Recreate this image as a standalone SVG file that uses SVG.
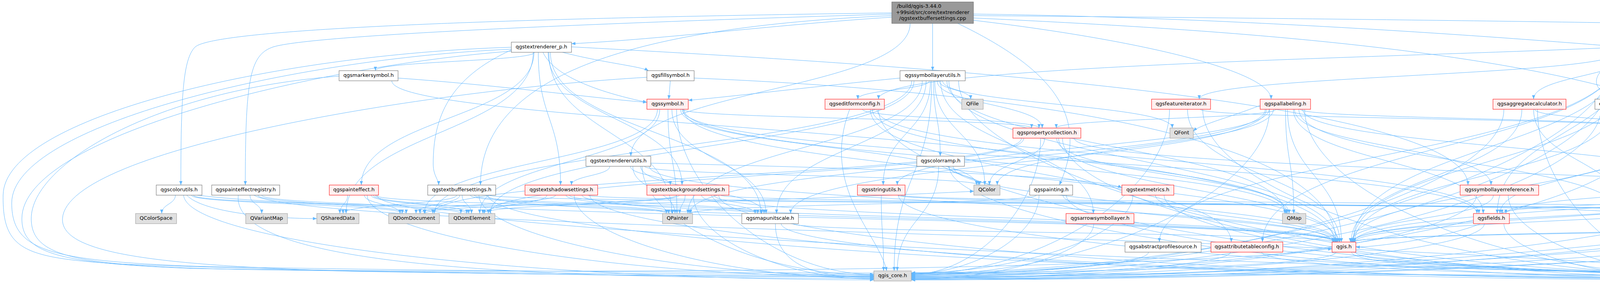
<svg xmlns="http://www.w3.org/2000/svg" width="6426" height="725" viewBox="0 0 6426 725">
<style>
.e path{fill:none;stroke:#63b8ff;stroke-width:1;marker-end:url(#a)}
.w rect{fill:#ffffff;stroke:#666666;stroke-width:1}
.g rect{fill:#e0e0e0;stroke:#999999;stroke-width:1}
.r rect{fill:#fff0f0;stroke:#ff0000;stroke-width:1}
.rt rect{fill:#999999;stroke:#666666;stroke-width:1}
text{font-family:"DejaVu Sans","Liberation Sans",sans-serif;font-size:13px;fill:#000000;text-anchor:middle}
</style>
<defs>
<marker id="a" viewBox="0 0 10 8" refX="10" refY="4" markerWidth="10" markerHeight="8" markerUnits="userSpaceOnUse" orient="auto"><path d="M0,0L10,4L0,8z" fill="#63b8ff"/></marker>
</defs>
<rect x="0" y="0" width="6426" height="725" fill="#ffffff"/>
<g id="edges" class="e">
<path d="M2283,33 C1400,45 560,70 500,120 C468,150 463,250 463,474"/>
<path d="M2283,36 C1500,60 800,90 700,120 C640,140 628,200 628,474"/>
<path d="M2283,40 C1600,70 1230,200 1230,474"/>
<path d="M2283,44 C2000,62 1700,100 1463,112"/>
<path d="M2330,60 C2330,230 1615,230 1615,400"/>
<path d="M2387.5,60 L2387.5,181"/>
<path d="M2452,60 C2700,180 2790,300 2712,474"/>
<path d="M2492,52 C2900,100 3254,180 3254,254"/>
<path d="M2492,36 C3200,45 3900,100 4125,118"/>
<path d="M2492,46 C3200,80 4589,150 4589,547"/>
<path d="M2492,40 C3500,48 5500,70 5790,110 C5880,140 5905,250 5905,400"/>
<path d="M1368,134 C1368,157 961,157 961,181"/>
<path d="M1367,134 C1367,304 925,304 925,474"/>
<path d="M1365,134 C1365,340 886,340 886,547"/>
<path d="M1309,128 C1150,200 1109,300 1109,420 C1109,450 1123,460 1123,474"/>
<path d="M1378,134 C1378,304 1435,304 1435,474"/>
<path d="M1440,134 C1540,160 1640,170 1660,181"/>
<path d="M1390,134 C1420,200 1550,240 1656,262"/>
<path d="M1403,134 C1403,304 1746,304 1746,474"/>
<path d="M1405,134 C1405,340 1720,340 1720,547"/>
<path d="M1409,134 C1409,340 1948,340 1948,547"/>
<path d="M1463,120 C2000,150 3758,236 3758,474"/>
<path d="M1309,121 C700,140 10,300 8,500 C6,640 60,660 300,676 C900,700 1800,709 2237,709"/>
<path d="M1309,126 C750,150 30,320 30,520 C30,640 120,668 500,682 C1500,705 3500,700 4375,707"/>
<path d="M1309,131 C800,170 56,350 56,560 C56,650 150,675 500,688 C1500,705 3000,690 3410,637"/>
<path d="M4125,122 C3500,150 2249,170 2249,254"/>
<path d="M4140,134 C4140,416 3236,699 2333,699"/>
<path d="M4143,134 C4143,194 3070,194 3070,254"/>
<path d="M4150,134 C4150,377 3232,377 3232,620"/>
<path d="M4160,134 C4160,377 3464,377 3464,620"/>
<path d="M4175,134 C4175,340 3833,340 3833,547"/>
<path d="M4179,134 C4179,194 3926,194 3926,254"/>
<path d="M4165,134 C4060,190 4070,230 4140,254"/>
<path d="M4200,134 C4330,300 4320,450 4190,547"/>
<path d="M4190,134 L4190,181"/>
<path d="M4225,134 C4310,200 4300,280 4267,328"/>
<path d="M4230,134 C4420,200 4425,300 4425,474"/>
<path d="M4235,134 C4470,300 4409,500 4409,694"/>
<path d="M4255,125 C4450,150 4550,170 4629,190"/>
<path d="M4213,134 C4213,236 4736,236 4736,474"/>
<path d="M4255,128 C4700,160 5011,220 5011,328"/>
<path d="M4255,130 C4700,180 5200,300 5100,400"/>
<path d="M4240,134 C4240,258 5356,258 5356,547"/>
<path d="M4255,118 C4900,140 5331,231 5331,328"/>
<path d="M4242,134 C4242,258 5558,258 5558,547"/>
<path d="M4255,114 C5000,130 5570,231 5570,328"/>
<path d="M4246,134 C4246,416 4943,699 5641,699"/>
<path d="M4152,134 C4152,400 2968,400 2968,620"/>
<path d="M1019,200 C1300,220 1550,255 1656,262"/>
<path d="M868,195 C400,230 80,420 80,560 C80,660 200,680 600,690 C1200,700 1900,703 2237,703"/>
<path d="M1003,207 C1003,331 3416,331 3416,620"/>
<path d="M1716,207 L1712,254"/>
<path d="M1656,198 C1100,230 170,380 160,560 C155,650 400,680 900,695 C1600,707 2000,707 2237,707"/>
<path d="M1777,200 C2500,230 3420,331 3420,620"/>
<path d="M2304,200 C2100,220 1850,250 1762,257"/>
<path d="M2334,207 C2334,377 1112,377 1112,547"/>
<path d="M2340,207 C2340,377 1255,377 1255,547"/>
<path d="M2361,207 C2361,377 1761,377 1761,547"/>
<path d="M2371,207 C2371,377 1988,377 1988,547"/>
<path d="M2379,207 C2379,230 2196,230 2196,254"/>
<path d="M2382,207 C2382,340 2261,340 2261,474"/>
<path d="M2385,207 C2385,450 2289,450 2289,694"/>
<path d="M2390,207 C2390,303 2407,303 2407,400"/>
<path d="M2404,207 C2404,230 2485,230 2485,254"/>
<path d="M2393,207 C2393,340 2521,340 2521,474"/>
<path d="M2399,207 C2399,267 2668,267 2668,328"/>
<path d="M2408,207 C2408,377 2799,377 2799,547"/>
<path d="M2413,207 C2413,267 3001,267 3001,328"/>
<path d="M2424,207 C2424,377 3289,377 3289,547"/>
<path d="M2429,207 C2429,413 3424,413 3424,620"/>
<path d="M2454,207 C2454,454 3415,701 4375,701"/>
<path d="M4119,207 C4119,454 3226,701 2333,701"/>
<path d="M4161,207 C4161,413 3465,413 3465,620"/>
<path d="M4175,207 C4175,230 4165,230 4165,254"/>
<path d="M4240,207 C4420,350 4330,470 4185,547"/>
<path d="M4245,207 C4250,280 4254,280 4254,328"/>
<path d="M4260,207 C4260,340 4400,340 4400,474"/>
<path d="M4270,207 C4270,450 4425,450 4425,694"/>
<path d="M4263,207 C4263,377 5360,377 5360,547"/>
<path d="M4266,207 C4266,377 5562,377 5562,547"/>
<path d="M1683,280 C1683,413 1086,413 1086,547"/>
<path d="M1689,280 C1689,413 1228,413 1228,547"/>
<path d="M1710,280 C1710,413 1733,413 1733,547"/>
<path d="M1720,280 C1720,413 1961,413 1961,547"/>
<path d="M1732,280 C1732,491 1985,703 2237,703"/>
<path d="M1742,280 C1742,377 2500,377 2500,474"/>
<path d="M1747,280 C1747,304 2641,304 2641,328"/>
<path d="M1751,280 C1751,413 3292,413 3292,547"/>
<path d="M1749,280 C1749,450 3428,450 3428,620"/>
<path d="M1746,280 C1746,413 3781,413 3781,547"/>
<path d="M2175,280 C2100,480 2250,600 2270,694"/>
<path d="M2208,280 C2208,304 2660,304 2660,328"/>
<path d="M2233,280 C2233,413 3295,413 3295,547"/>
<path d="M2228,280 C2228,450 3152,450 3152,620"/>
<path d="M2245,280 C2245,413 3786,413 3786,547"/>
<path d="M2249,280 C2249,491 3312,703 4375,703"/>
<path d="M3073,280 C3073,304 4205,304 4205,328"/>
<path d="M2994,280 C2994,491 2664,703 2333,703"/>
<path d="M3079,280 C3079,492 3727,705 4375,705"/>
<path d="M3040,280 C3040,450 3430,450 3430,620"/>
<path d="M3239,280 C3239,413 1765,413 1765,547"/>
<path d="M3242,280 C3242,413 2024,413 2024,547"/>
<path d="M3249,280 C3249,377 2297,377 2297,474"/>
<path d="M3250,280 C3250,492 2792,705 2333,705"/>
<path d="M3260,280 C3260,377 2553,377 2553,474"/>
<path d="M3266,280 C3266,304 2704,304 2704,328"/>
<path d="M3226,270 C3150,300 3070,320 3055,336"/>
<path d="M3291,280 C3291,413 3312,413 3312,547"/>
<path d="M3296,280 C3296,450 3434,450 3434,620"/>
<path d="M3311,280 C3311,413 3797,413 3797,547"/>
<path d="M3314,280 C3314,377 3817,377 3817,474"/>
<path d="M3329,280 C3329,304 4216,304 4216,328"/>
<path d="M3325,280 C3325,413 4149,413 4149,547"/>
<path d="M3335,280 C3335,377 4379,377 4379,474"/>
<path d="M3340,280 C3340,493 3858,707 4375,707"/>
<path d="M3850,280 C3850,492 3092,705 2333,705"/>
<path d="M3896,280 C3896,450 3459,450 3459,620"/>
<path d="M3926,280 C3926,413 4161,413 4161,547"/>
<path d="M3929,280 C3929,304 4240,304 4240,328"/>
<path d="M3936,280 C3936,495 4156,709 4375,709"/>
<path d="M4098,280 C4098,494 3216,707 2333,707"/>
<path d="M4128,280 C4128,450 3468,450 3468,620"/>
<path d="M4175,280 C4175,304 4228,304 4228,328"/>
<path d="M4205,280 C4205,413 5358,413 5358,547"/>
<path d="M4200,280 C4200,487 4414,487 4414,694"/>
<path d="M2615,354 C2615,450 1108,450 1108,547"/>
<path d="M2621,354 C2621,450 1250,450 1250,547"/>
<path d="M2664,354 C2664,528 2499,703 2333,703"/>
<path d="M2674,354 C2674,414 2533,414 2533,474"/>
<path d="M2705,354 C2705,450 3300,450 3300,547"/>
<path d="M2710,354 C2710,487 3420,487 3420,620"/>
<path d="M2720,354 C2720,532 3548,711 4375,711"/>
<path d="M2750,354 C2750,450 5362,450 5362,547"/>
<path d="M4193,354 C4193,531 3263,709 2333,709"/>
<path d="M4221,354 C4221,487 3462,487 3462,620"/>
<path d="M4237,354 C4237,450 3840,450 3840,547"/>
<path d="M4251,354 C4251,450 4174,450 4174,547"/>
<path d="M4260,354 C4260,524 4412,524 4412,694"/>
<path d="M4270,354 C4270,414 4402,414 4402,474"/>
<path d="M4279,354 C4279,450 4847,450 4847,547"/>
<path d="M4331,345 C4700,360 4900,395 4957,409"/>
<path d="M4299,354 C4299,450 5352,450 5352,547"/>
<path d="M5044.5,354 L5045,400"/>
<path d="M5365,354 C5365,377 5058,377 5058,400"/>
<path d="M5604,354 C5604,377 5068,377 5068,400"/>
<path d="M5629,354 C5660,524 5677,524 5677,694"/>
<path d="M5580,354 C5580,532 5021,711 4462,711"/>
<path d="M1561,426 C1561,450 1463,450 1463,474"/>
<path d="M1614,426 C1614,450 1716,450 1716,474"/>
<path d="M1620,426 C1620,486 1728,486 1728,547"/>
<path d="M1640,426 C1640,486 1956,486 1956,547"/>
<path d="M1644,426 C1644,566 1944,705 2237,705"/>
<path d="M1650,426 C1650,450 2505,450 2505,474"/>
<path d="M1666,418 C2200,430 2800,450 2872,481"/>
<path d="M1662,426 C1662,523 3412,523 3412,620"/>
<path d="M2428,426 C2428,450 2508,450 2508,474"/>
<path d="M2403,426 C2403,560 2297,560 2297,694"/>
<path d="M2430,426 C2430,570 3402,713 4375,713"/>
<path d="M2440,426 C2440,523 3422,523 3422,620"/>
<path d="M4975,426 C4975,569 3654,711 2333,711"/>
<path d="M4981,426 C4981,523 3466,523 3466,620"/>
<path d="M4996,426 C4996,486 3855,486 3855,547"/>
<path d="M5020,426 C5020,450 4460,450 4460,474"/>
<path d="M5010,426 C5010,570 4736,713 4462,713"/>
<path d="M5059,426 C5059,486 5364,486 5364,547"/>
<path d="M5067,426 C5067,486 5573,486 5573,547"/>
<path d="M5071,426 C5071,565 5356,703 5641,703"/>
<path d="M5860,426 C5860,570 4097,715 2333,715"/>
<path d="M5862,426 C5862,523 3463,523 3463,620"/>
<path d="M5847,418 C5200,440 4750,520 4697,552"/>
<path d="M5847,414 C5300,430 5050,460 5019,480"/>
<path d="M5875,426 C5875,570 5169,715 4462,715"/>
<path d="M5899,426 C5899,486 5608,486 5608,547"/>
<path d="M5910,426 L5908,474"/>
<path d="M5928,426 C5928,450 6000,450 6000,474"/>
<path d="M5946,426 C5946,450 6100,450 6100,474"/>
<path d="M5976,418 C6150,440 6290,450 6290,474"/>
<path d="M5976,422 C6250,450 6200,650 5718,707"/>
<path d="M449,500 C449,523 414,523 414,547"/>
<path d="M478,500 C520,545 700,560 811,560"/>
<path d="M490,500 C490,523 1030,523 1030,547"/>
<path d="M495,500 C495,523 1180,523 1180,547"/>
<path d="M505,500 C1000,560 2300,500 2493,490"/>
<path d="M470,500 C480,620 1350,717 2237,717"/>
<path d="M640,500 C640,523 670,523 670,547"/>
<path d="M660,500 C660,523 1040,523 1040,547"/>
<path d="M670,500 C670,523 1195,523 1195,547"/>
<path d="M610,500 C590,690 1400,713 2237,713"/>
<path d="M650,500 C800,590 3500,600 4375,697"/>
<path d="M890,500 C890,523 870,523 870,547"/>
<path d="M933,500 C933,523 1024,523 1024,547"/>
<path d="M950,500 C950,523 1200,523 1200,547"/>
<path d="M960,500 C960,523 1706,523 1706,547"/>
<path d="M940,500 C940,604 1589,709 2237,709"/>
<path d="M965,500 C965,600 3670,699 4375,699"/>
<path d="M955,500 C955,560 3425,560 3425,620"/>
<path d="M1169,500 C1169,523 878,523 878,547"/>
<path d="M1177,500 C1177,523 1065,523 1065,547"/>
<path d="M1183,500 C1183,523 1207,523 1207,547"/>
<path d="M1204,500 C1204,523 1712,523 1712,547"/>
<path d="M1214,500 C1214,523 1940,523 1940,547"/>
<path d="M1226,500 C1226,604 1732,707 2237,707"/>
<path d="M1252,500 C1252,523 4595,523 4595,547"/>
<path d="M1245,500 C1245,560 3414,560 3414,620"/>
<path d="M1250,500 C1250,605 2813,711 4375,711"/>
<path d="M1422,500 C1422,523 1075,523 1075,547"/>
<path d="M1400,500 C1400,523 1240,523 1240,547"/>
<path d="M1449,500 C1449,523 1722,523 1722,547"/>
<path d="M1458,500 C1458,523 1950,523 1950,547"/>
<path d="M1470,500 C1470,607 1854,713 2237,713"/>
<path d="M1490,500 C1490,560 3418,560 3418,620"/>
<path d="M1505,500 C1505,523 4590,523 4590,547"/>
<path d="M1510,500 C1510,607 2943,713 4375,713"/>
<path d="M1733,500 C1733,523 1088,523 1088,547"/>
<path d="M1739,500 C1739,523 1236,523 1236,547"/>
<path d="M1754,500 C1754,523 1740,523 1740,547"/>
<path d="M1796,500 C1796,523 1933,523 1933,547"/>
<path d="M1775,500 C1775,608 2006,715 2237,715"/>
<path d="M1828,500 C1828,560 3420,560 3420,620"/>
<path d="M1845,500 C1845,523 4592,523 4592,547"/>
<path d="M1840,500 C1840,608 3108,715 4375,715"/>
<path d="M2256,500 C2256,597 2262,597 2262,694"/>
<path d="M2305,500 C2305,523 5556,523 5556,547"/>
<path d="M2300,500 C2300,600 3338,699 4375,699"/>
<path d="M2298,500 C2298,523 4152,523 4152,547"/>
<path d="M2653,500 C2653,523 1768,523 1768,547"/>
<path d="M2660,500 C2660,600 2497,701 2333,701"/>
<path d="M2730,500 C2730,600 3553,701 4375,701"/>
<path d="M2721,500 C2721,560 3419,560 3419,620"/>
<path d="M2900,500 C2900,600 2617,699 2333,699"/>
<path d="M2980,500 C2980,601 3678,703 4375,703"/>
<path d="M2958,500 C2958,560 3421,560 3421,620"/>
<path d="M3780,500 C3780,607 3057,713 2333,713"/>
<path d="M3823,500 C3823,560 3457,560 3457,620"/>
<path d="M3861,500 C3861,603 4118,705 4375,705"/>
<path d="M4395,500 C4395,523 3845,523 3845,547"/>
<path d="M4410,500 C4410,523 4181,523 4181,547"/>
<path d="M4390,500 C4390,608 3362,715 2333,715"/>
<path d="M4400,500 C4400,560 3461,560 3461,620"/>
<path d="M4420,500 L4420,694"/>
<path d="M4458,500 C4458,523 5370,523 5370,547"/>
<path d="M4758,500 C4758,560 4749,560 4749,620"/>
<path d="M4735,500 C4735,523 4660,523 4660,547"/>
<path d="M4720,500 C4720,608 3527,717 2333,717"/>
<path d="M4725,500 C4725,600 4594,701 4462,701"/>
<path d="M4730,500 C4730,560 3468,560 3468,620"/>
<path d="M4790,500 C4790,604 5216,709 5641,709"/>
<path d="M4880,500 C4880,604 3607,709 2333,709"/>
<path d="M4900,500 C4900,601 4681,703 4462,703"/>
<path d="M4958,500 C4958,523 5569,523 5569,547"/>
<path d="M1985,573 C1985,690 2110,711 2237,711"/>
<path d="M2000,573 C2000,645 3188,717 4375,717"/>
<path d="M2030,573 C2030,596 3415,596 3415,620"/>
<path d="M2800,573 C2800,644 2567,715 2333,715"/>
<path d="M3790,573 C3700,610 3520,633 3471,633"/>
<path d="M3850,573 C3850,645 4113,717 4375,717"/>
<path d="M3800,573 C3800,645 3067,711 2333,711"/>
<path d="M4656,573 C4656,596 4723,596 4723,620"/>
<path d="M4600,573 C4600,645 3467,713 2333,713"/>
<path d="M4625,573 C4625,660 4550,705 4462,705"/>
<path d="M4610,573 C4610,596 3466,596 3466,620"/>
<path d="M4849,573 C4849,596 4775,596 4775,620"/>
<path d="M4820,573 C4820,645 3577,717 2333,717"/>
<path d="M4860,573 C4860,680 4600,709 4462,709"/>
<path d="M4800,573 C4800,596 3460,596 3460,620"/>
<path d="M2940,646 C2940,680 2600,703 2333,703"/>
<path d="M3150,646 C3150,680 2700,707 2333,707"/>
<path d="M3230,646 C3230,680 3800,707 4375,707"/>
<path d="M3420,646 C3420,680 2800,699 2333,699"/>
<path d="M3460,646 C3460,680 3900,699 4375,699"/>
<path d="M3470,646 C3470,690 4600,715 5641,715"/>
</g>
<g id="n_root" class="rt"><rect x="2283" y="5" width="209" height="55"/><text x="2296" y="20" style="text-anchor:start">/build/qgis-3.44.0</text><text x="2387.5" y="35.5">+99sid/src/core/textrenderer</text><text x="2387.5" y="51">/qgstextbuffersettings.cpp</text></g>
<g id="n_trp" class="w"><rect x="1309" y="108" width="154" height="26"/><text x="1386" y="124">qgstextrenderer_p.h</text></g>
<g id="n_vl" class="w"><rect x="4125" y="108" width="130" height="26"/><text x="4190" y="124">qgsvectorlayer.h</text></g>
<g id="n_ms" class="w"><rect x="868" y="181" width="151" height="26"/><text x="943.5" y="197">qgsmarkersymbol.h</text></g>
<g id="n_fs" class="w"><rect x="1656" y="181" width="121" height="26"/><text x="1716.5" y="197">qgsfillsymbol.h</text></g>
<g id="n_slu" class="w"><rect x="2304" y="181" width="167" height="26"/><text x="2387.5" y="197">qgssymbollayerutils.h</text></g>
<g id="n_vdp" class="r"><rect x="4101" y="181" width="180" height="26"/><text x="4191" y="197">qgsvectordataprovider.h</text></g>
<g id="n_qmutex" class="g"><rect x="4629" y="181" width="73" height="26"/><text x="4665.5" y="197">QMutex</text></g>
<g id="n_sym" class="r"><rect x="1656" y="254" width="106" height="26"/><text x="1709" y="270">qgssymbol.h</text></g>
<g id="n_efc" class="r"><rect x="2112" y="254" width="152" height="26"/><text x="2188" y="270">qgseditformconfig.h</text></g>
<g id="n_qfile" class="g"><rect x="2462" y="254" width="55" height="26"/><text x="2489.5" y="270">QFile</text></g>
<g id="n_fi" class="r"><rect x="2948" y="254" width="151" height="26"/><text x="3023.5" y="270">qgsfeatureiterator.h</text></g>
<g id="n_pal" class="r"><rect x="3226" y="254" width="129" height="26"/><text x="3290.5" y="270">qgspallabeling.h</text></g>
<g id="n_agg" class="r"><rect x="3822" y="254" width="187" height="26"/><text x="3915.5" y="270">qgsaggregatecalculator.h</text></g>
<g id="n_fsrc" class="w"><rect x="4083" y="254" width="147" height="26"/><text x="4156.5" y="270">qgsfeaturesource.h</text></g>
<g id="n_pc" class="r"><rect x="2593" y="328" width="174" height="26"/><text x="2680" y="344">qgspropertycollection.h</text></g>
<g id="n_qfont" class="g"><rect x="2995" y="328" width="60" height="26"/><text x="3025" y="344">QFont</text></g>
<g id="n_freq" class="r"><rect x="4177" y="328" width="154" height="26"/><text x="4254" y="344">qgsfeaturerequest.h</text></g>
<g id="n_ecsg" class="w"><rect x="4906" y="328" width="277" height="26"/><text x="5044.5" y="344">qgsexpressioncontextscopegenerator.h</text></g>
<g id="n_ecg" class="w"><rect x="5259" y="328" width="238" height="26"/><text x="5378" y="344">qgsexpressioncontextgenerator.h</text></g>
<g id="n_vltc" class="w"><rect x="5521" y="328" width="212" height="26"/><text x="5627" y="344">qgsvectorlayertoolscontext.h</text></g>
<g id="n_tru" class="w"><rect x="1500" y="400" width="166" height="26"/><text x="1583" y="416">qgstextrendererutils.h</text></g>
<g id="n_cr" class="w"><rect x="2347" y="400" width="122" height="26"/><text x="2408" y="416">qgscolorramp.h</text></g>
<g id="n_ec" class="r"><rect x="4957" y="400" width="177" height="26"/><text x="5045.5" y="416">qgsexpressioncontext.h</text></g>
<g id="n_app" class="w"><rect x="5847" y="400" width="129" height="26"/><text x="5911.5" y="416">qgsapplication.h</text></g>
<g id="n_cu" class="w"><rect x="400" y="474" width="117" height="26"/><text x="458.5" y="490">qgscolorutils.h</text></g>
<g id="n_per" class="w"><rect x="542" y="474" width="174" height="26"/><text x="629" y="490">qgspainteffectregistry.h</text></g>
<g id="n_pe" class="r"><rect x="843" y="474" width="126" height="26"/><text x="906" y="490">qgspainteffect.h</text></g>
<g id="n_tbs" class="w"><rect x="1095" y="474" width="174" height="26"/><text x="1182" y="490">qgstextbuffersettings.h</text></g>
<g id="n_tss" class="r"><rect x="1344" y="474" width="186" height="26"/><text x="1437" y="490">qgstextshadowsettings.h</text></g>
<g id="n_tbg" class="r"><rect x="1656" y="474" width="210" height="26"/><text x="1761" y="490">qgstextbackgroundsettings.h</text></g>
<g id="n_su" class="r"><rect x="2195" y="474" width="122" height="26"/><text x="2256" y="490">qgsstringutils.h</text></g>
<g id="n_qcolor" class="g"><rect x="2493" y="474" width="67" height="26"/><text x="2526.5" y="490">QColor</text></g>
<g id="n_pnt" class="w"><rect x="2636" y="474" width="110" height="26"/><text x="2691" y="490">qgspainting.h</text></g>
<g id="n_tm" class="r"><rect x="2872" y="474" width="133" height="26"/><text x="2938.5" y="490">qgstextmetrics.h</text></g>
<g id="n_slr" class="r"><rect x="3738" y="474" width="201" height="26"/><text x="3838.5" y="490">qgssymbollayerreference.h</text></g>
<g id="n_feat" class="r"><rect x="4368" y="474" width="103" height="26"/><text x="4419.5" y="490">qgsfeature.h</text></g>
<g id="n_ml" class="r"><rect x="4699" y="474" width="119" height="26"/><text x="4758.5" y="490">qgsmaplayer.h</text></g>
<g id="n_tc" class="r"><rect x="4843" y="474" width="176" height="26"/><text x="4931" y="490">qgstranslationcontext.h</text></g>
<g id="n_qapp" class="g"><rect x="5854" y="474" width="105" height="26"/><text x="5906.5" y="490">QApplication</text></g>
<g id="n_qevent" class="g"><rect x="5984" y="474" width="69" height="26"/><text x="6018.5" y="490">QEvent</text></g>
<g id="n_cfg" class="g"><rect x="6077" y="474" width="96" height="26"/><text x="6125" y="490">qgsconfig.h</text></g>
<g id="n_sei" class="r"><rect x="6249" y="474" width="172" height="26"/><text x="6335" y="490">qgssettingsentryimpl.h</text></g>
<g id="n_qcs" class="g"><rect x="347" y="547" width="105" height="26"/><text x="399.5" y="563">QColorSpace</text></g>
<g id="n_qvm" class="g"><rect x="629" y="547" width="107" height="26"/><text x="682.5" y="563">QVariantMap</text></g>
<g id="n_qsd" class="g"><rect x="811" y="547" width="108" height="26"/><text x="865" y="563">QSharedData</text></g>
<g id="n_qdd" class="g"><rect x="995" y="547" width="130" height="26"/><text x="1060" y="563">QDomDocument</text></g>
<g id="n_qde" class="g"><rect x="1149" y="547" width="118" height="26"/><text x="1208" y="563">QDomElement</text></g>
<g id="n_qpainter" class="g"><rect x="1696" y="547" width="77" height="26"/><text x="1734.5" y="563">QPainter</text></g>
<g id="n_mus" class="w"><rect x="1899" y="547" width="145" height="26"/><text x="1971.5" y="563">qgsmapunitscale.h</text></g>
<g id="n_asl" class="r"><rect x="2729" y="547" width="174" height="26"/><text x="2816" y="563">qgsarrowsymbollayer.h</text></g>
<g id="n_qmap" class="g"><rect x="3283" y="547" width="60" height="26"/><text x="3313" y="563">QMap</text></g>
<g id="n_flds" class="r"><rect x="3772" y="547" width="92" height="26"/><text x="3818" y="563">qgsfields.h</text></g>
<g id="n_qlist" class="g"><rect x="4143" y="547" width="56" height="26"/><text x="4171" y="563">QList</text></g>
<g id="n_ut" class="w"><rect x="4577" y="547" width="120" height="26"/><text x="4637" y="563">qgsunittypes.h</text></g>
<g id="n_vsm" class="r"><rect x="4772" y="547" width="200" height="26"/><text x="4872" y="563">qgsvectorsimplifymethod.h</text></g>
<g id="n_qset" class="g"><rect x="5351" y="547" width="52" height="26"/><text x="5377" y="563">QSet</text></g>
<g id="n_qsl" class="g"><rect x="5549" y="547" width="93" height="26"/><text x="5595.5" y="563">QStringList</text></g>
<g id="n_aps" class="w"><rect x="2880" y="620" width="195" height="26"/><text x="2977.5" y="636">qgsabstractprofilesource.h</text></g>
<g id="n_atc" class="r"><rect x="3100" y="620" width="184" height="26"/><text x="3192" y="636">qgsattributetableconfig.h</text></g>
<g id="n_qgis" class="r"><rect x="3410" y="620" width="61" height="26"/><text x="3440.5" y="636">qgis.h</text></g>
<g id="n_qobject" class="g"><rect x="4709" y="620" width="75" height="26"/><text x="4746.5" y="636">QObject</text></g>
<g id="n_core" class="g"><rect x="2237" y="694" width="96" height="26"/><text x="2285" y="710">qgis_core.h</text></g>
<g id="n_sip" class="w"><rect x="4375" y="694" width="87" height="26"/><text x="4418.5" y="710">qgis_sip.h</text></g>
<g id="n_mem" class="g"><rect x="5641" y="694" width="77" height="26"/><text x="5679.5" y="710">memory</text></g>
</svg>
